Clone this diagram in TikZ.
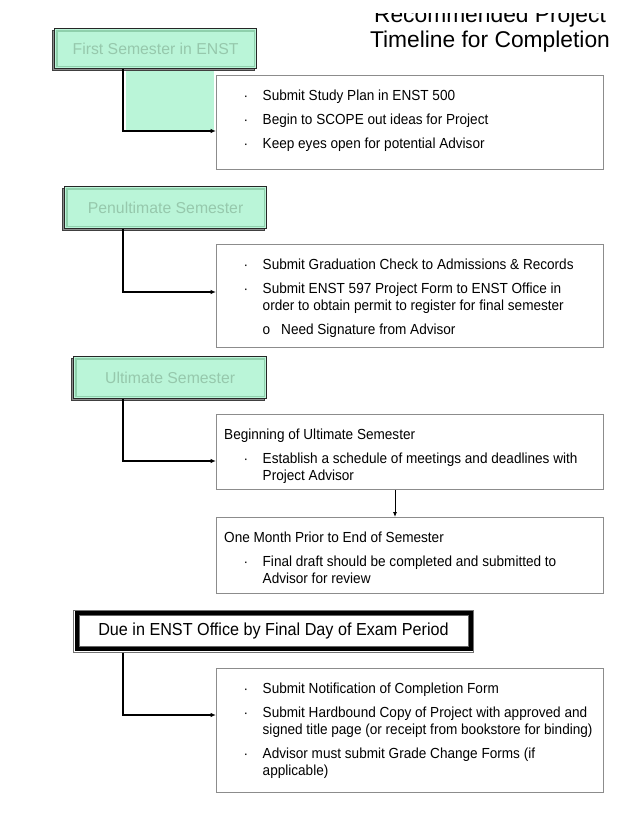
\documentclass[tikz,border=0pt]{standalone}
\usepackage{fontspec}
\setmainfont{Liberation Sans}
\newfontfamily\narrowsans[FakeStretch=0.93]{Liberation Sans}
\usetikzlibrary{arrows.meta,calc}
\definecolor{mint}{HTML}{BAF5D8}
\definecolor{mintline}{HTML}{8FD0AC}
\definecolor{minttext}{HTML}{96C8AC}
\definecolor{boxline}{HTML}{8C8C8C}
\begin{document}
\begin{tikzpicture}[x=1pt,y=-1pt,
  txtbox/.style={draw=boxline, line width=1pt, fill=white, anchor=north west, inner sep=0pt, minimum width=386.5pt},
  semester/.style={fill=mint, draw=black!85, line width=1.2pt, anchor=north west, inner sep=0pt, minimum height=41pt, text=minttext, font=\fontsize{15.8}{18}\selectfont},
  shadowbox/.style={draw=black!75, fill=black!45, line width=1pt},
  innerline/.style={draw=mintline, line width=1.2pt},
  itemtxt/.style={anchor=base west, inner sep=0pt, font=\narrowsans\fontsize{14.6}{16}\selectfont},
  bul/.style={anchor=base, inner sep=0pt, font=\fontsize{13.6}{16}\selectfont},
  titletxt/.style={anchor=base, inner sep=0pt, font=\fontsize{22.8}{25}\selectfont},
  conn/.style={draw=black, line width=1.2pt, -{Latex[length=5.5pt,width=4.5pt]}},
  thinconn/.style={draw=black, line width=0.8pt, -{Latex[length=5pt,width=4pt]}},
]
\useasboundingbox (0,0) rectangle (640,828);

% title
\begin{scope}
\clip (0,13) rectangle (640,828);
\node[titletxt] (ttop) at (490,22.7) {Recommended Project};
\end{scope}
\node[titletxt] (tbot) at (490,47.7) {Timeline for Completion};

% ---------- First semester ----------
\fill[mint] (126,70) rectangle (214,130);
\draw[shadowbox] (52,30) rectangle (254,70);
\node[semester, minimum width=202pt, minimum height=40pt] (g1) at (54,28) {First Semester in ENST};
\draw[innerline] ($(g1.north west)+(3,3)$) rectangle ($(g1.south east)+(-3,-3)$);
\node[txtbox, minimum height=94pt] (b1) at (216,75) {};
\node[bul] (b1d1) at (246,100) {·};
\node[itemtxt] (b1l1) at (262.5,100) {Submit Study Plan in ENST 500};
\node[bul] (b1d2) at (246,124) {·};
\node[itemtxt] (b1l2) at (262.5,124) {Begin to SCOPE out ideas for Project};
\node[bul] (b1d3) at (246,148) {·};
\node[itemtxt] (b1l3) at (262.5,148) {Keep eyes open for potential Advisor};
\coordinate (a1) at ($(b1.north west)+(0,56)$);
\draw[conn] ($(g1.south west)+(69,0)$) |- (a1);

% ---------- Penultimate ----------
\draw[shadowbox] (62,188) rectangle (264,230);
\node[semester, minimum width=202pt, minimum height=42pt] (g2) at (64,186) {Penultimate Semester};
\draw[innerline] ($(g2.north west)+(3,3)$) rectangle ($(g2.south east)+(-3,-3)$);
\node[txtbox, minimum height=103pt] (b2) at (216,244) {};
\node[bul] (b2d1) at (246,269) {·};
\node[itemtxt] (b2l1) at (262.5,269) {Submit Graduation Check to Admissions \& Records};
\node[bul] (b2d2) at (246,293) {·};
\node[itemtxt] (b2l2) at (262.5,293) {Submit ENST 597 Project Form to ENST Office in};
\node[itemtxt] (b2l3) at (262.5,310) {order to obtain permit to register for final semester};
\node[itemtxt] (b2o) at (262.5,334) {o};
\node[itemtxt] (b2l4) at (281,334) {Need Signature from Advisor};
\coordinate (a2) at ($(b2.north west)+(0,48)$);
\draw[conn] ($(g2.south west)+(59,0)$) |- (a2);

% ---------- Ultimate ----------
\draw[shadowbox] (71,358) rectangle (264,400);
\node[semester, minimum width=193pt, minimum height=42pt] (g3) at (73,356) {Ultimate Semester};
\draw[innerline] ($(g3.north west)+(3,3)$) rectangle ($(g3.south east)+(-3,-3)$);
\node[txtbox, minimum height=75pt] (b3) at (216,414) {};
\node[itemtxt] (b3h) at (224,439) {Beginning of Ultimate Semester};
\node[bul] (b3d1) at (246,463) {·};
\node[itemtxt] (b3l1) at (262.5,463) {Establish a schedule of meetings and deadlines with};
\node[itemtxt] (b3l2) at (262.5,480) {Project Advisor};
\coordinate (a3) at ($(b3.north west)+(0,47)$);
\draw[conn] ($(g3.south west)+(50,0)$) |- (a3);

\node[txtbox, minimum height=76pt] (b4) at (216,517) {};
\node[itemtxt] (b4h) at (224,542) {One Month Prior to End of Semester};
\node[bul] (b4d1) at (246,566) {·};
\node[itemtxt] (b4l1) at (262.5,566) {Final draft should be completed and submitted to};
\node[itemtxt] (b4l2) at (262.5,583) {Advisor for review};
\draw[thinconn] ($(b3.south west)+(179,0)$) -- ($(b4.north west)+(179,0)$);

% ---------- Due ----------
\node[draw=black!55, line width=1pt, anchor=north west, inner sep=0pt, minimum width=400pt, minimum height=42pt, font=\narrowsans\fontsize{17.4}{19}\selectfont] (d) at (73,609.5) {Due in ENST Office by Final Day of Exam Period};
\draw[black, line width=4pt] ($(d.north west)+(3.5,3.5)$) rectangle ($(d.south east)+(-3.5,-3.5)$);
\draw[black!60, line width=0.6pt] ($(d.north west)+(5.8,5.8)$) rectangle ($(d.south east)+(-5.8,-5.8)$);
\node[txtbox, minimum height=124pt] (b5) at (216,668) {};
\node[bul] (b5d1) at (246,693) {·};
\node[itemtxt] (b5l1) at (262.5,693) {Submit Notification of Completion Form};
\node[bul] (b5d2) at (246,717) {·};
\node[itemtxt] (b5l2) at (262.5,717) {Submit Hardbound Copy of Project with approved and};
\node[itemtxt] (b5l3) at (262.5,734) {signed title page (or receipt from bookstore for binding)};
\node[bul] (b5d3) at (246,758) {·};
\node[itemtxt] (b5l4) at (262.5,758) {Advisor must submit Grade Change Forms (if};
\node[itemtxt] (b5l5) at (262.5,775) {applicable)};
\coordinate (a5) at ($(b5.north west)+(0,47)$);
\draw[conn] ($(d.south west)+(50,0)$) |- (a5);
\end{tikzpicture}
\end{document}
